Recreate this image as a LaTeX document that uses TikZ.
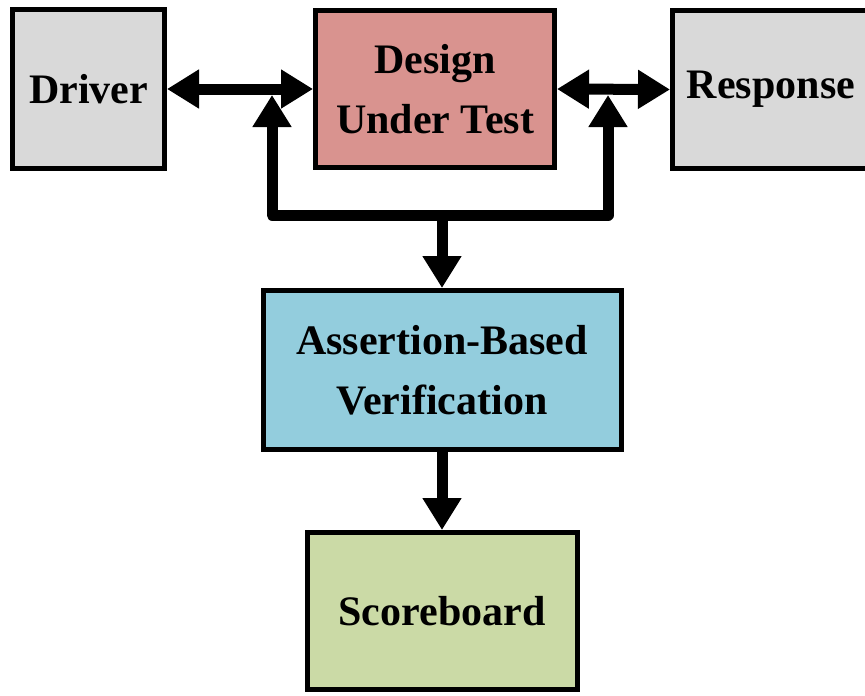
\documentclass[tikz,border=0pt]{standalone}
\usepackage{fontspec}
\setmainfont{Liberation Serif}
\usetikzlibrary{arrows.meta}
\definecolor{drvgray}{HTML}{D9D9D9}
\definecolor{dutred}{HTML}{D9938F}
\definecolor{abvblue}{HTML}{93CDDD}
\definecolor{sbgreen}{HTML}{CBDAA6}

\begin{document}
\begin{tikzpicture}[x=1pt, y=-1pt,
  box/.style={draw, line width=5pt, inner sep=0pt, align=center,
    font=\bfseries\fontsize{42}{60}\selectfont},
  bus/.style={line width=11pt, line join=round},
  tip/.tip={Triangle[length=32pt, width=37pt]}]
\useasboundingbox (0,0) rectangle (865,696);
\node[box, fill=drvgray, minimum width=152pt, minimum height=159pt] (drv) at (88.5,89) {Driver};
\node[box, fill=dutred, minimum width=239pt, minimum height=157pt] (dut) at (435,89) {Design\\Under Test};
\node[box, fill=drvgray, minimum width=197pt, minimum height=158pt] (resp) at (771,89.5) {Response};
\node[box, fill=abvblue, minimum width=358pt, minimum height=159pt] (abv) at (442,370) {Assertion-Based\\Verification};
\node[box, fill=sbgreen, minimum width=270pt, minimum height=157pt] (sb) at (442,611) {Scoreboard};
\coordinate (jl) at (272,95);
\coordinate (jr) at (608,95);
\coordinate (bl) at (272,215);
\coordinate (br) at (608,215);
\coordinate (bm) at (442,215);
\draw[bus, tip-tip] (drv.east) -- (dut.west);
\draw[bus, tip-tip] (dut.east) -- (resp.west);
\draw[bus, tip-tip] (jl) -- (bl) -- (br) -- (jr);
\draw[bus, -tip] (bm) -- (abv.north);
\draw[bus, -tip] (abv.south) -- (sb.north);
\end{tikzpicture}
\end{document}
